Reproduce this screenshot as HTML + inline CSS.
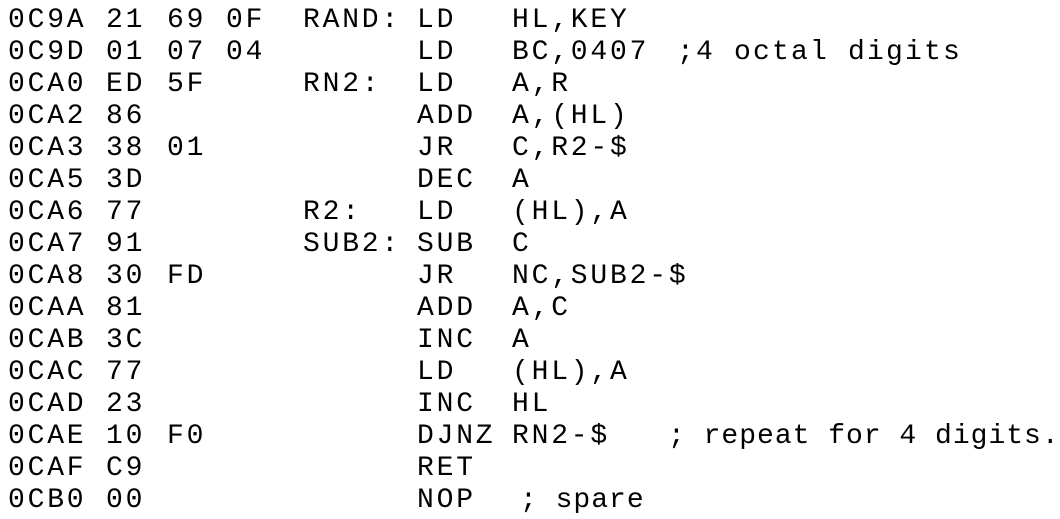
<!DOCTYPE html>
<html><head><meta charset="utf-8"><style>
html,body{margin:0;padding:0;background:#fff;}
body{width:1060px;height:519px;position:relative;overflow:hidden;}
.l{position:absolute;left:0;height:32px;width:1060px;font-family:"Liberation Mono","DejaVu Sans Mono",monospace;font-size:28px;line-height:32px;color:#000;}
.l span{position:absolute;top:0;white-space:pre;letter-spacing:2.8px;}
.l span.c{letter-spacing:1px;}
</style></head><body>
<div class="l" style="top:5px"><span style="left:8px">0C9A</span><span style="left:106px">21</span><span style="left:167px">69</span><span style="left:226px">0F</span><span style="left:303px">RAND:</span><span style="left:417px">LD</span><span style="left:512px">HL,KEY</span></div>
<div class="l" style="top:37px"><span style="left:8px">0C9D</span><span style="left:106px">01</span><span style="left:167px">07</span><span style="left:226px">04</span><span style="left:417px">LD</span><span style="left:512px">BC,0407</span><span class="c" style="left:677px;letter-spacing:2.2px">;4 octal digits</span></div>
<div class="l" style="top:69px"><span style="left:8px">0CA0</span><span style="left:106px">ED</span><span style="left:167px">5F</span><span style="left:303px">RN2:</span><span style="left:417px">LD</span><span style="left:512px">A,R</span></div>
<div class="l" style="top:101px"><span style="left:8px">0CA2</span><span style="left:106px">86</span><span style="left:417px">ADD</span><span style="left:512px">A,(HL)</span></div>
<div class="l" style="top:133px"><span style="left:8px">0CA3</span><span style="left:106px">38</span><span style="left:167px">01</span><span style="left:417px">JR</span><span style="left:512px">C,R2-$</span></div>
<div class="l" style="top:165px"><span style="left:8px">0CA5</span><span style="left:106px">3D</span><span style="left:417px">DEC</span><span style="left:512px">A</span></div>
<div class="l" style="top:197px"><span style="left:8px">0CA6</span><span style="left:106px">77</span><span style="left:303px">R2:</span><span style="left:417px">LD</span><span style="left:512px">(HL),A</span></div>
<div class="l" style="top:229px"><span style="left:8px">0CA7</span><span style="left:106px">91</span><span style="left:303px">SUB2:</span><span style="left:417px">SUB</span><span style="left:512px">C</span></div>
<div class="l" style="top:261px"><span style="left:8px">0CA8</span><span style="left:106px">30</span><span style="left:167px">FD</span><span style="left:417px">JR</span><span style="left:512px">NC,SUB2-$</span></div>
<div class="l" style="top:293px"><span style="left:8px">0CAA</span><span style="left:106px">81</span><span style="left:417px">ADD</span><span style="left:512px">A,C</span></div>
<div class="l" style="top:325px"><span style="left:8px">0CAB</span><span style="left:106px">3C</span><span style="left:417px">INC</span><span style="left:512px">A</span></div>
<div class="l" style="top:357px"><span style="left:8px">0CAC</span><span style="left:106px">77</span><span style="left:417px">LD</span><span style="left:512px">(HL),A</span></div>
<div class="l" style="top:389px"><span style="left:8px">0CAD</span><span style="left:106px">23</span><span style="left:417px">INC</span><span style="left:512px">HL</span></div>
<div class="l" style="top:421px"><span style="left:8px">0CAE</span><span style="left:106px">10</span><span style="left:167px">F0</span><span style="left:417px">DJNZ</span><span style="left:512px">RN2-$</span><span class="c" style="left:668px">; repeat for 4 digits.</span></div>
<div class="l" style="top:453px"><span style="left:8px">0CAF</span><span style="left:106px">C9</span><span style="left:417px">RET</span></div>
<div class="l" style="top:485px"><span style="left:8px">0CB0</span><span style="left:106px">00</span><span style="left:417px">NOP</span><span class="c" style="left:520px">; spare</span></div>
</body></html>
